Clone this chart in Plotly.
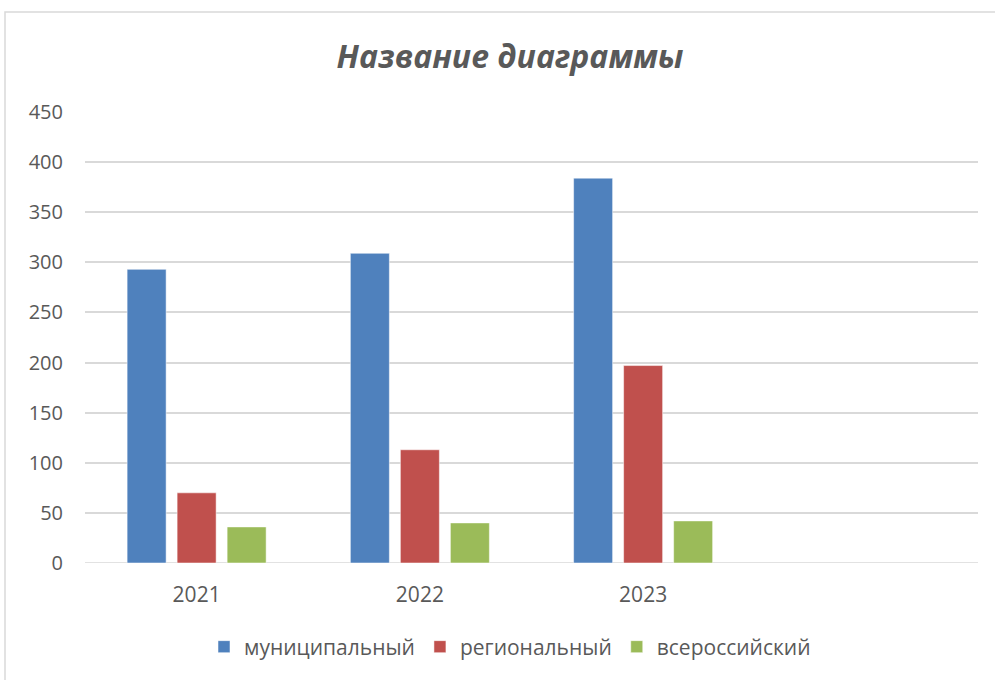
import plotly.graph_objects as go

categories = ["2021", "2022", "2023", "4"]
tick_labels = ["2021", "2022", "2023", ""]
series_names = ["муниципальный", "региональный", "всероссийский"]
municipal = [293, 309, 384, None]
regional = [70, 113, 197, None]
all_russian = [36, 40, 42, None]
colors = ["#4F81BD", "#C0504D", "#9BBB59"]

fig = go.Figure()
for name, vals, col in zip(series_names, [municipal, regional, all_russian], colors):
    fig.add_trace(go.Bar(x=categories, y=vals, name=name,
                         marker=dict(color=col, line=dict(color="rgba(255,255,255,0.5)", width=1))))

L, R, T, B = 85, 17, 112, 117
W, H = 995, 680
pw, ph = W - L - R, H - T - B

def px_x(px):
    return (px - L) / pw

def px_y(py):
    return (H - B - py) / ph

font_family = "Open Sans, Liberation Sans, sans-serif"

fig.update_layout(
    width=W, height=H,
    margin=dict(l=L, r=R, t=T, b=B),
    paper_bgcolor="white", plot_bgcolor="white",
    barmode="group", bargap=0.328, bargroupgap=0.22,
    font=dict(family=font_family, color="#595959"),
    title=dict(text="<b><i>Название диаграммы</i></b>", x=510 / W, xref="container", xanchor="center",
               y=1 - 57 / H, yref="container", yanchor="middle",
               font=dict(size=32, color="#595959", family=font_family)),
    xaxis=dict(type="category", categoryorder="array", categoryarray=categories,
               tickvals=categories, ticktext=tick_labels, range=[-0.5, 3.5],
               showgrid=False, showline=False, zeroline=False, ticks="",
               tickfont=dict(size=21, color="#595959"), ticklabelstandoff=17),
    yaxis=dict(range=[0, 450], dtick=50, tick0=0, showgrid=True, gridcolor="#D9D9D9", gridwidth=1.5,
               zeroline=False, showline=False, ticks="", tickfont=dict(size=20, color="#595959"),
               ticklabelstandoff=21),
    legend=dict(orientation="h", x=px_x(510), xanchor="center", y=px_y(647), yanchor="middle",
                font=dict(size=21, color="#595959"), bgcolor="rgba(0,0,0,0)", itemwidth=30),
    showlegend=True,
)
fig.add_shape(type="rect", xref="paper", yref="paper",
              x0=px_x(5), x1=px_x(1005), y0=px_y(700), y1=px_y(12),
              line=dict(color="#D9D9D9", width=1.5), fillcolor="rgba(0,0,0,0)", layer="below")
fig.add_shape(type="line", xref="paper", yref="y", x0=0, x1=1, y0=0, y1=0,
              line=dict(color="#D9D9D9", width=1.5), layer="below")

fig.write_html("out.html", config={"displayModeBar": False},
               post_script="document.body.style.margin='0';")
